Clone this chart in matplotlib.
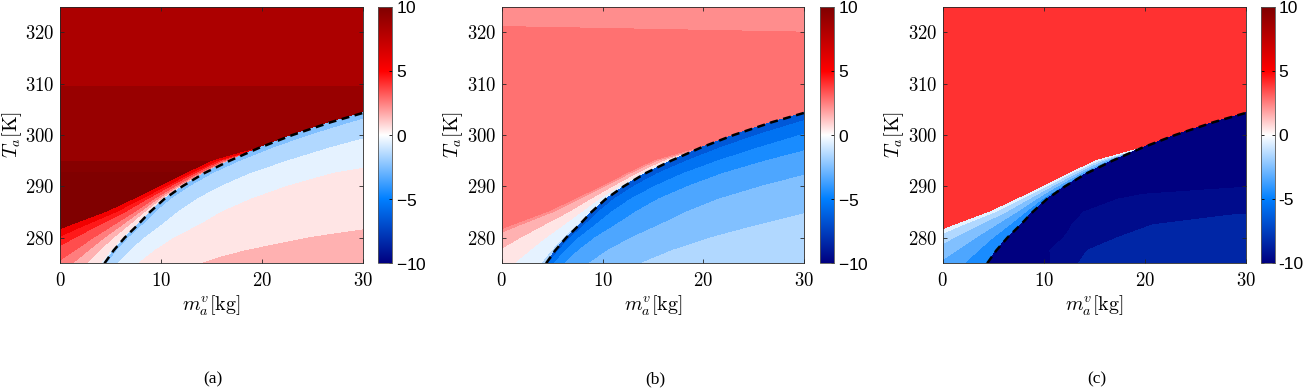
import numpy as np
import matplotlib
matplotlib.use("Agg")
import matplotlib.pyplot as plt
from matplotlib.colors import LinearSegmentedColormap, Normalize
from matplotlib.cm import ScalarMappable

# ---------------- data ----------------
# temperature rows [K]
T_grid = [275, 277.5, 280, 282.5, 285, 287.5, 290, 292.5, 295, 297.5,
          300, 302.5, 305, 310, 315, 320, 325]
# saturation mass (dashed curve) at each temperature row [kg]
m_sat = [4.4, 5.3, 6.4, 7.7, 8.9, 10.3, 12.1, 14.2, 16.8, 19.7,
         23.0, 26.8, 31.2, 42.0, 57.0, 77.0, 104.0]
# edge of the upper (uniform) region, rows 275 ... 297.5 [kg]
m_edge = [-8.5, -5.0, -1.9, 1.3, 4.7, 7.4, 10.0, 12.5, 15.2, 19.7]

# upper region values (left / right side of each row)
A_a = [10.5, 10.5, 10.45, 10.4, 10.35, 10.3, 10.25, 10.05, 9.45, 9.3,
       9.2, 9.1, 9.0, 8.45, 8.4, 8.35, 8.3]
A_b_left = [2.7] * 15 + [2.7, 2.25]
A_b_right = [2.7] * 15 + [2.35, 2.1]
A_c = [4.0] * 17

# band between the edge and the dashed curve (edge -> curve)
B_frac = [0.0, 1 / 3, 2 / 3, 1.0]
B_a = [5.9, 4.3, 2.8, -0.3]
B_b = [2.2, 1.3, 0.4, -1.2]
B_c = [-0.6, -1.9, -3.2, -4.9]

# region below the dashed curve: columns are m / m_sat, rows T 275 ... 305
rh_cols = [1.0, 1.05, 1.2, 1.45, 1.8, 2.4, 3.3, 4.6, 7.5]
C_a = [
    [-2.9, -2.1, -1.3, -0.65, 0.05, 0.55, 1.05, 1.45, 1.8],
    [-2.9, -2.1, -1.3, -0.65, 0.05, 0.5, 0.95, 1.3, 1.7],
    [-2.9, -2.1, -1.3, -0.65, 0.05, 0.45, 0.85, 1.2, 1.6],
    [-2.9, -2.1, -1.3, -0.65, 0.0, 0.4, 0.8, 1.05, 1.5],
    [-2.9, -2.1, -1.3, -0.65, 0.0, 0.35, 0.7, 0.95, 1.4],
    [-2.9, -2.1, -1.3, -0.66, -0.02, 0.3, 0.65, 0.9, 1.3],
    [-2.9, -2.1, -1.3, -0.67, -0.03, 0.28, 0.6, 0.85, 1.2],
    [-2.9, -2.1, -1.32, -0.7, -0.05, 0.25, 0.55, 0.8, 1.1],
    [-2.9, -2.1, -1.35, -0.75, -0.15, 0.2, 0.5, 0.75, 1.0],
    [-2.9, -2.12, -1.37, -0.78, -0.2, 0.15, 0.45, 0.7, 0.95],
    [-2.9, -2.15, -1.4, -0.8, -0.25, 0.1, 0.4, 0.6, 0.9],
    [-2.9, -2.15, -1.4, -0.8, -0.25, 0.1, 0.4, 0.6, 0.9],
    [-2.9, -2.15, -1.4, -0.8, -0.25, 0.1, 0.4, 0.6, 0.9],
]
C_b = [
    [-6.8, -6.1, -4.9, -3.9, -3.2, -2.5, -1.9, -1.4, -1.1],
    [-6.8, -6.12, -4.95, -3.95, -3.22, -2.52, -1.93, -1.45, -1.12],
    [-6.8, -6.15, -5.0, -4.0, -3.25, -2.55, -1.97, -1.5, -1.15],
    [-6.8, -6.17, -5.05, -4.05, -3.28, -2.58, -2.01, -1.55, -1.18],
    [-6.8, -6.2, -5.1, -4.1, -3.3, -2.6, -2.05, -1.6, -1.2],
    [-6.8, -6.22, -5.17, -4.13, -3.35, -2.63, -2.1, -1.63, -1.23],
    [-6.8, -6.23, -5.23, -4.17, -3.4, -2.67, -2.15, -1.67, -1.27],
    [-6.8, -6.25, -5.3, -4.2, -3.45, -2.7, -2.2, -1.7, -1.3],
    [-6.8, -6.28, -5.35, -4.25, -3.48, -2.7, -2.15, -1.65, -1.25],
    [-6.8, -6.3, -5.4, -4.3, -3.5, -2.7, -2.1, -1.6, -1.2],
    [-6.8, -6.3, -5.4, -4.3, -3.5, -2.7, -2.1, -1.6, -1.2],
    [-6.8, -6.3, -5.4, -4.3, -3.5, -2.7, -2.1, -1.6, -1.2],
    [-6.8, -6.3, -5.4, -4.3, -3.5, -2.7, -2.1, -1.6, -1.2],
]
C_c = [
    [-11.5, -11.3, -11.0, -10.7, -10.4, -10.05, -8.6, -8.3, -7.9],
    [-11.5, -11.3, -11.0, -10.7, -10.4, -9.2, -8.6, -8.3, -8.05],
    [-11.5, -11.3, -11.0, -10.6, -10.1, -9.2, -8.6, -8.2, -7.9],
    [-11.4, -11.2, -10.9, -10.3, -9.8, -9.15, -8.7, -8.4, -8.0],
    [-11.3, -11.1, -10.7, -10.15, -9.7, -9.4, -9.1, -8.8, -8.4],
    [-11.2, -11.0, -10.7, -10.3, -9.85, -9.6, -9.3, -9.0, -8.7],
    [-11.2, -11.0, -10.8, -10.5, -10.25, -10.07, -9.8, -9.5, -9.2],
    [-11.2, -11.0, -10.9, -10.7, -10.5, -10.3, -10.1, -9.9, -9.6],
    [-11.2, -11.0, -10.9, -10.7, -10.5, -10.3, -10.1, -9.9, -9.6],
    [-11.2, -11.0, -10.9, -10.7, -10.5, -10.3, -10.1, -9.9, -9.6],
    [-11.2, -11.0, -10.9, -10.7, -10.5, -10.3, -10.1, -9.9, -9.6],
    [-11.2, -11.0, -10.9, -10.7, -10.5, -10.3, -10.1, -9.9, -9.6],
    [-11.2, -11.0, -10.9, -10.7, -10.5, -10.3, -10.1, -9.9, -9.6],
]

# contour levels of each panel
levels_a = [-10, -9, -8, -7, -6, -5, -4, -3, -2, -1, 0, 1, 2, 3, 4, 5, 6, 7, 8, 8.5, 9.5, 10]
levels_b = [-10, -9, -8, -7, -6, -5, -4, -3, -2, -1, 0, 1, 2, 2.5, 3, 4, 5, 6, 7, 8, 9, 10]
levels_c = [-10, -9, -8, -7, -6, -5, -4, -3, -2, -1, 0, 1, 2, 3, 3.5, 4.5, 5, 6, 7, 8, 9, 10]

x_ticks = [0, 10, 20, 30]
y_ticks = [280, 290, 300, 310, 320]
cbar_ticks = [-10, -5, 0, 5, 10]
cbar_labels = ["-10", "-5", "0", "5", "10"]
captions = ["(a)", "(b)", "(c)"]

# ---------------- style ----------------
plt.rcParams["mathtext.fontset"] = "cm"
plt.rcParams["font.family"] = "serif"
plt.rcParams["font.serif"] = ["cmr10"]
plt.rcParams["axes.formatter.use_mathtext"] = True

cmap = LinearSegmentedColormap.from_list(
    "rwb",
    [(0.0, (0, 0, 128 / 255)), (0.25, (0, 128 / 255, 1)), (0.5, (1, 1, 1)),
     (0.75, (1, 0, 0)), (1.0, (128 / 255, 0, 0))])
norm = Normalize(vmin=-10, vmax=10)

W, H = 1305, 391
fig = plt.figure(figsize=(W / 100, H / 100), dpi=100)

ax_px = [(60, 363.3), (501.7, 804.3), (942.7, 1246)]
cb_px = [(378, 392), (820, 833.5), (1261, 1274.5)]
y_top, y_bot = 6.7, 263.3
cap_x = [213, 655, 1097]

T = np.array(T_grid)
ms = np.array(m_sat)
me = np.array(m_edge)
nB = len(m_edge)
nC = len(C_a)

panels = [
    (A_a, A_a, B_a, C_a, levels_a),
    (A_b_left, A_b_right, B_b, C_b, levels_b),
    (A_c, A_c, B_c, C_c, levels_c),
]

for k, (Al, Ar, Bp, Ct, lev) in enumerate(panels):
    x0, x1 = ax_px[k]
    ax = fig.add_axes([x0 / W, 1 - y_bot / H, (x1 - x0) / W, (y_bot - y_top) / H])

    # upper region mesh
    m_right = np.concatenate([me, ms[nB:]])
    XA = np.column_stack([np.full(len(T), -30.0), m_right])
    YA = np.column_stack([T, T])
    ZA = np.column_stack([Al, Ar])
    # band between edge and curve
    fr = np.array(B_frac)
    XB = me[:, None] + (ms[:nB] - me)[:, None] * fr[None, :]
    YB = np.repeat(T[:nB, None], len(fr), axis=1)
    ZB = np.tile(np.array(Bp), (nB, 1))
    # region below curve
    rc = np.array(rh_cols)
    XC = ms[:nC, None] * rc[None, :]
    YC = np.repeat(T[:nC, None], len(rc), axis=1)
    ZC = np.array(Ct)

    for X, Y, Z in ((XA, YA, ZA), (XB, YB, ZB), (XC, YC, ZC)):
        ax.contourf(X, Y, Z, levels=lev, cmap=cmap, norm=norm,
                    extend="both", antialiased=False)

    ax.plot(m_sat, T_grid, color="black", lw=1.8, ls=(0, (3.2, 2.2)))

    ax.set_xlim(0, 30)
    ax.set_ylim(275, 325)
    ax.set_xticks(x_ticks)
    ax.set_yticks(y_ticks)
    ax.tick_params(direction="in", length=3, width=0.6, top=True, right=True,
                   labelsize=13.5, pad=4, colors="#262626", labelcolor="black")
    ax.tick_params(axis="x", pad=6)
    for s in ax.spines.values():
        s.set_linewidth(0.6)
        s.set_color("#262626")
    ax.set_xlabel(r"$m_a^v[\mathrm{kg}]$", fontsize=14.5, labelpad=3)
    ax.set_ylabel(r"$T_a[\mathrm{K}]$", fontsize=14.5, labelpad=1)

    c0, c1 = cb_px[k]
    cax = fig.add_axes([c0 / W, 1 - y_bot / H, (c1 - c0) / W, (y_bot - y_top) / H])
    cb = fig.colorbar(ScalarMappable(norm=norm, cmap=cmap), cax=cax,
                      ticks=cbar_ticks)
    cb.ax.set_yticklabels(cbar_labels, fontfamily="Liberation Sans", fontsize=12.5)
    cb.ax.tick_params(direction="in", length=2.5, width=0.6, left=True,
                      right=True, pad=3)
    cb.outline.set_linewidth(0.6)
    cb.outline.set_edgecolor("#555555")

    fig.text(cap_x[k] / W, 1 - 379 / H, captions[k], ha="center", va="center",
             fontsize=12.5, fontfamily="Liberation Serif")

fig.savefig("out.png", dpi=100)
